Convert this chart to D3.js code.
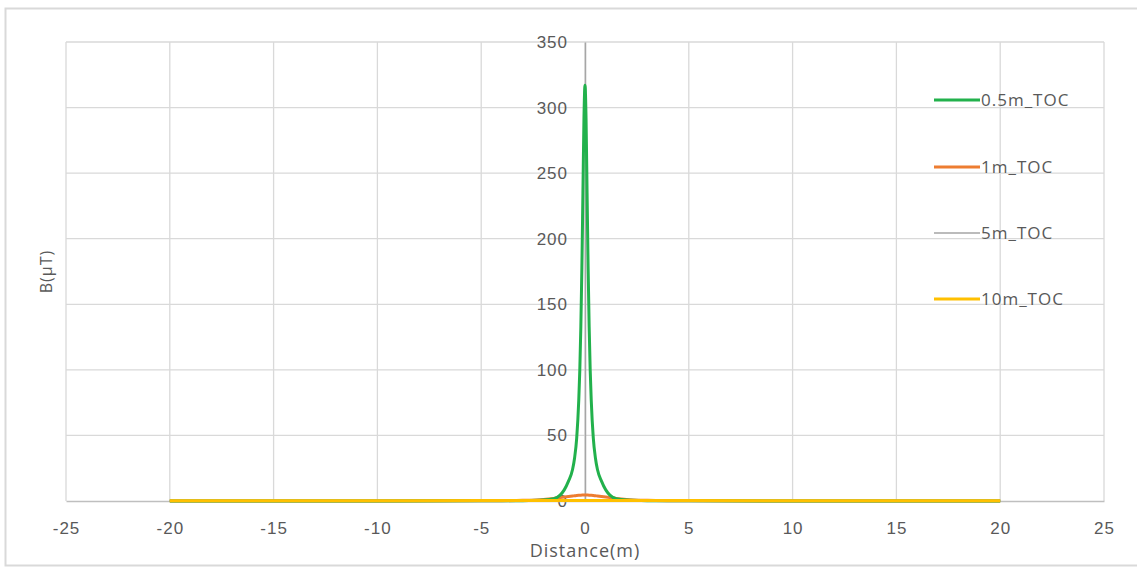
<!DOCTYPE html>
<html><head><meta charset="utf-8">
<script src="https://cdn.jsdelivr.net/npm/d3@7"></script>
<style>body{margin:0;background:#fff;}svg{display:block;font-family:"Open Sans","DejaVu Sans",sans-serif;}</style>
</head><body><svg id="c" width="1137" height="567"></svg>
<script>
const distances = [-20,-15,-10,-5,-4,-3,-2,-1.5,-1.2,-1,-0.8,-0.6,-0.5,-0.4,-0.3,-0.25,-0.2,-0.15,-0.1,-0.05,0,0.05,0.1,0.15,0.2,0.25,0.3,0.4,0.5,0.6,0.8,1,1.2,1.5,2,3,4,5,10,15,20];
const toc05 = [0.02,0.03,0.05,0.1,0.15,0.25,0.7,1.8,4.5,8.5,15,24,33,48,77,100,133,178,235,292,317,292,235,178,133,100,77,48,33,24,15,8.5,4.5,1.8,0.7,0.25,0.15,0.1,0.05,0.03,0.02];
const toc1 = [0.01,0.01,0.02,0.1,0.2,0.5,1.2,2.0,2.6,3.0,3.4,3.8,4.0,4.2,4.35,4.4,4.45,4.5,4.5,4.5,4.5,4.5,4.5,4.5,4.45,4.4,4.35,4.2,4.0,3.8,3.4,3.0,2.6,2.0,1.2,0.5,0.2,0.1,0.02,0.01,0.01];
const toc5 = [0.05,0.1,0.2,0.4,0.45,0.5,0.55,0.57,0.58,0.59,0.6,0.6,0.6,0.6,0.6,0.6,0.6,0.6,0.6,0.6,0.6,0.6,0.6,0.6,0.6,0.6,0.6,0.6,0.6,0.6,0.6,0.59,0.58,0.57,0.55,0.5,0.45,0.4,0.2,0.1,0.05];
const toc10 = [0.15,0.2,0.25,0.3,0.3,0.3,0.3,0.3,0.3,0.3,0.3,0.3,0.3,0.3,0.3,0.3,0.3,0.3,0.3,0.3,0.3,0.3,0.3,0.3,0.3,0.3,0.3,0.3,0.3,0.3,0.3,0.3,0.3,0.3,0.3,0.3,0.3,0.3,0.25,0.2,0.15];
const seriesNames = ["0.5m_TOC","1m_TOC","5m_TOC","10m_TOC"];
const seriesColors = ["#22b14c","#ed7d31","#a5a5a5","#ffc000"];
const xTicks = [-25,-20,-15,-10,-5,0,5,10,15,20,25];
const yTicks = [0,50,100,150,200,250,300,350];

const seriesData = [toc05,toc1,toc5,toc10];
const svg = d3.select("#c");
const L=66,R=1104,T=42,B=501;
svg.append("rect").attr("x",5.5).attr("y",8.5).attr("width",1140).attr("height",557).attr("fill","#fff").attr("stroke","#d9d9d9").attr("stroke-width",2);

const x = d3.scaleLinear().domain([-25,25]).range([L,R]);
const y = d3.scaleLinear().domain([0,350]).range([B,T]);

// grid
const g = svg.append("g");
g.selectAll(".vg").data(xTicks).join("line").attr("x1",d=>x(d)).attr("x2",d=>x(d)).attr("y1",T).attr("y2",B).attr("stroke","#d9d9d9").attr("stroke-width",1.3);
g.selectAll(".hg").data(yTicks.filter(d=>d>0)).join("line").attr("x1",L).attr("x2",R).attr("y1",d=>y(d)).attr("y2",d=>y(d)).attr("stroke","#d9d9d9").attr("stroke-width",1.3);

// y axis at x=0
const yAxis = d3.axisLeft(y).tickValues(yTicks).tickSize(0).tickPadding(17).tickFormat(d=>String(d));
const ya = svg.append("g").attr("transform",`translate(${x(0)},0)`).call(yAxis);
ya.select(".domain").attr("stroke","#a6a6a6").attr("stroke-width",1.5);
ya.selectAll("text").attr("fill","#595959").style("font-size","17px").style("letter-spacing","1px");

// x axis at y=0
const xAxis = d3.axisBottom(x).tickValues(xTicks).tickSize(0).tickPadding(21).tickFormat(d=>String(d));
const xa = svg.append("g").attr("transform",`translate(0,${y(0)})`).call(xAxis);
xa.select(".domain").attr("stroke","#bfbfbf").attr("stroke-width",1.5);
xa.selectAll("text").attr("fill","#595959").style("font-size","17px").style("letter-spacing","1px");

// lines
const line = d3.line().x((d,i)=>x(distances[i])).y(d=>y(d)).curve(d3.curveMonotoneX);
const order=[2,1,0,3];
order.forEach(k=>{
  svg.append("path").datum(seriesData[k]).attr("d",line).attr("fill","none").attr("stroke",seriesColors[k]).attr("stroke-width",k===2?1.5:3);
});

// axis titles
svg.append("text").attr("x",x(0)).attr("y",557).attr("text-anchor","middle").attr("fill","#595959").style("font-size","18px").style("letter-spacing","1px").text("Distance(m)");
svg.append("text").attr("transform",`translate(52,${(T+B)/2}) rotate(-90)`).attr("text-anchor","middle").attr("fill","#595959").style("font-size","16px").style("letter-spacing","1px").text("B(µT)");

// legend
const leg = svg.append("g");
const legY = [100,167,233,299];
seriesNames.forEach((n,i)=>{
  leg.append("line").attr("x1",934).attr("x2",980).attr("y1",legY[i]).attr("y2",legY[i]).attr("stroke",seriesColors[i]).attr("stroke-width",i===2?1.5:3);
  leg.append("text").attr("x",981).attr("y",legY[i]).attr("dy","0.35em").attr("fill","#595959").style("font-size","17px").style("letter-spacing","1px").text(n);
});
</script></body></html>
